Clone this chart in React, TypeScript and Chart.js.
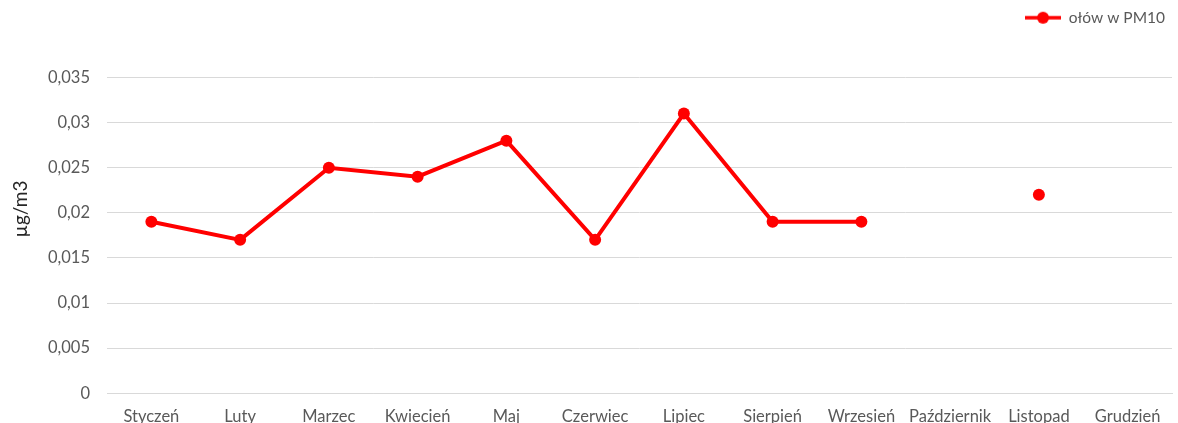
import React, { useEffect, useRef } from "react";
import { Chart, registerables } from "chart.js";

Chart.register(...registerables);

const months = ["Styczeń", "Luty", "Marzec", "Kwiecień", "Maj", "Czerwiec", "Lipiec", "Sierpień", "Wrzesień", "Październik", "Listopad", "Grudzień"];
const leadValues: (number | null)[] = [0.019, 0.017, 0.025, 0.024, 0.028, 0.017, 0.031, 0.019, 0.019, null, 0.022, null];
const seriesName = "ołów w PM10";
const yTitle = "µg/m3";
const yMin = 0;
const yMax = 0.035;
const yStep = 0.005;

const RED = "#FF0000";
const TEXT = "#595959";
const FONT = "Lato, 'Liberation Sans', sans-serif";

function makeLegendIcon(): HTMLCanvasElement {
  const c = document.createElement("canvas");
  c.width = 36;
  c.height = 14;
  const ctx = c.getContext("2d")!;
  ctx.strokeStyle = RED;
  ctx.lineWidth = 3.5;
  ctx.beginPath();
  ctx.moveTo(0, 7);
  ctx.lineTo(36, 7);
  ctx.stroke();
  ctx.fillStyle = RED;
  ctx.beginPath();
  ctx.arc(18, 7, 6, 0, Math.PI * 2);
  ctx.fill();
  return c;
}

export default function App() {
  const ref = useRef<HTMLCanvasElement | null>(null);

  useEffect(() => {
    document.body.style.margin = "0";
    const canvas = ref.current!;
    const icon = makeLegendIcon();

    const yTitlePlugin = {
      id: "yTitlePlugin",
      beforeInit(chart: any) {
        if (chart.legend) {
          const orig = chart.legend.fit;
          chart.legend.fit = function () {
            orig.call(this);
            this.height += 42;
          };
        }
      },
      afterDraw(chart: any) {
        const ctx = chart.ctx;
        ctx.save();
        ctx.translate(21, 209);
        ctx.rotate(-Math.PI / 2);
        ctx.fillStyle = "#262626";
        ctx.font = `19px ${FONT}`;
        ctx.textAlign = "center";
        ctx.textBaseline = "middle";
        ctx.fillText(yTitle, 0, 0);
        ctx.restore();
      },
    };

    const chart = new Chart(canvas, {
      type: "line",
      data: {
        labels: months,
        datasets: [
          {
            label: seriesName,
            data: leadValues,
            borderColor: RED,
            backgroundColor: RED,
            borderWidth: 4,
            pointRadius: 6,
            pointHoverRadius: 6,
            pointBackgroundColor: RED,
            pointBorderColor: RED,
            pointBorderWidth: 0,
            pointStyle: "circle",
            tension: 0,
            spanGaps: false,
          },
        ],
      },
      options: {
        responsive: false,
        animation: false,
        layout: { padding: { left: 0, right: 5, top: 2, bottom: 1 } },
        plugins: {
          legend: {
            position: "top",
            align: "end",
            labels: {
              usePointStyle: true,
              pointStyle: icon as any,
              pointStyleWidth: 36,
              color: TEXT,
              font: { family: FONT, size: 15.5 },
              padding: 8,
            },
          },
          tooltip: { enabled: false },
        },
        scales: {
          x: {
            type: "category",
            offset: true,
            grid: { display: false, drawTicks: false },
            border: { display: true, color: "#D9D9D9", width: 1 },
            ticks: {
              color: TEXT,
              font: { family: FONT, size: 16.5 },
              padding: 14,
              maxRotation: 0,
              autoSkip: false,
            },
          },
          y: {
            min: yMin,
            max: yMax,
            afterFit(scale: any) {
              scale.width = 107;
            },
            grid: { color: "#D9D9D9", drawTicks: false },
            border: { display: false },
            ticks: {
              stepSize: yStep,
              color: TEXT,
              font: { family: FONT, size: 16.5 },
              padding: 17,
              callback: (v: any) => String(Math.round(Number(v) * 1000) / 1000).replace(".", ","),
            },
          },
        },
      },
      plugins: [yTitlePlugin],
    });
    return () => chart.destroy();
  }, []);

  return (
    <div style={{ width: 1178, height: 423, overflow: "hidden", position: "relative" }}>
      <canvas ref={ref} width={1178} height={442} style={{ display: "block" }} />
    </div>
  );
}
